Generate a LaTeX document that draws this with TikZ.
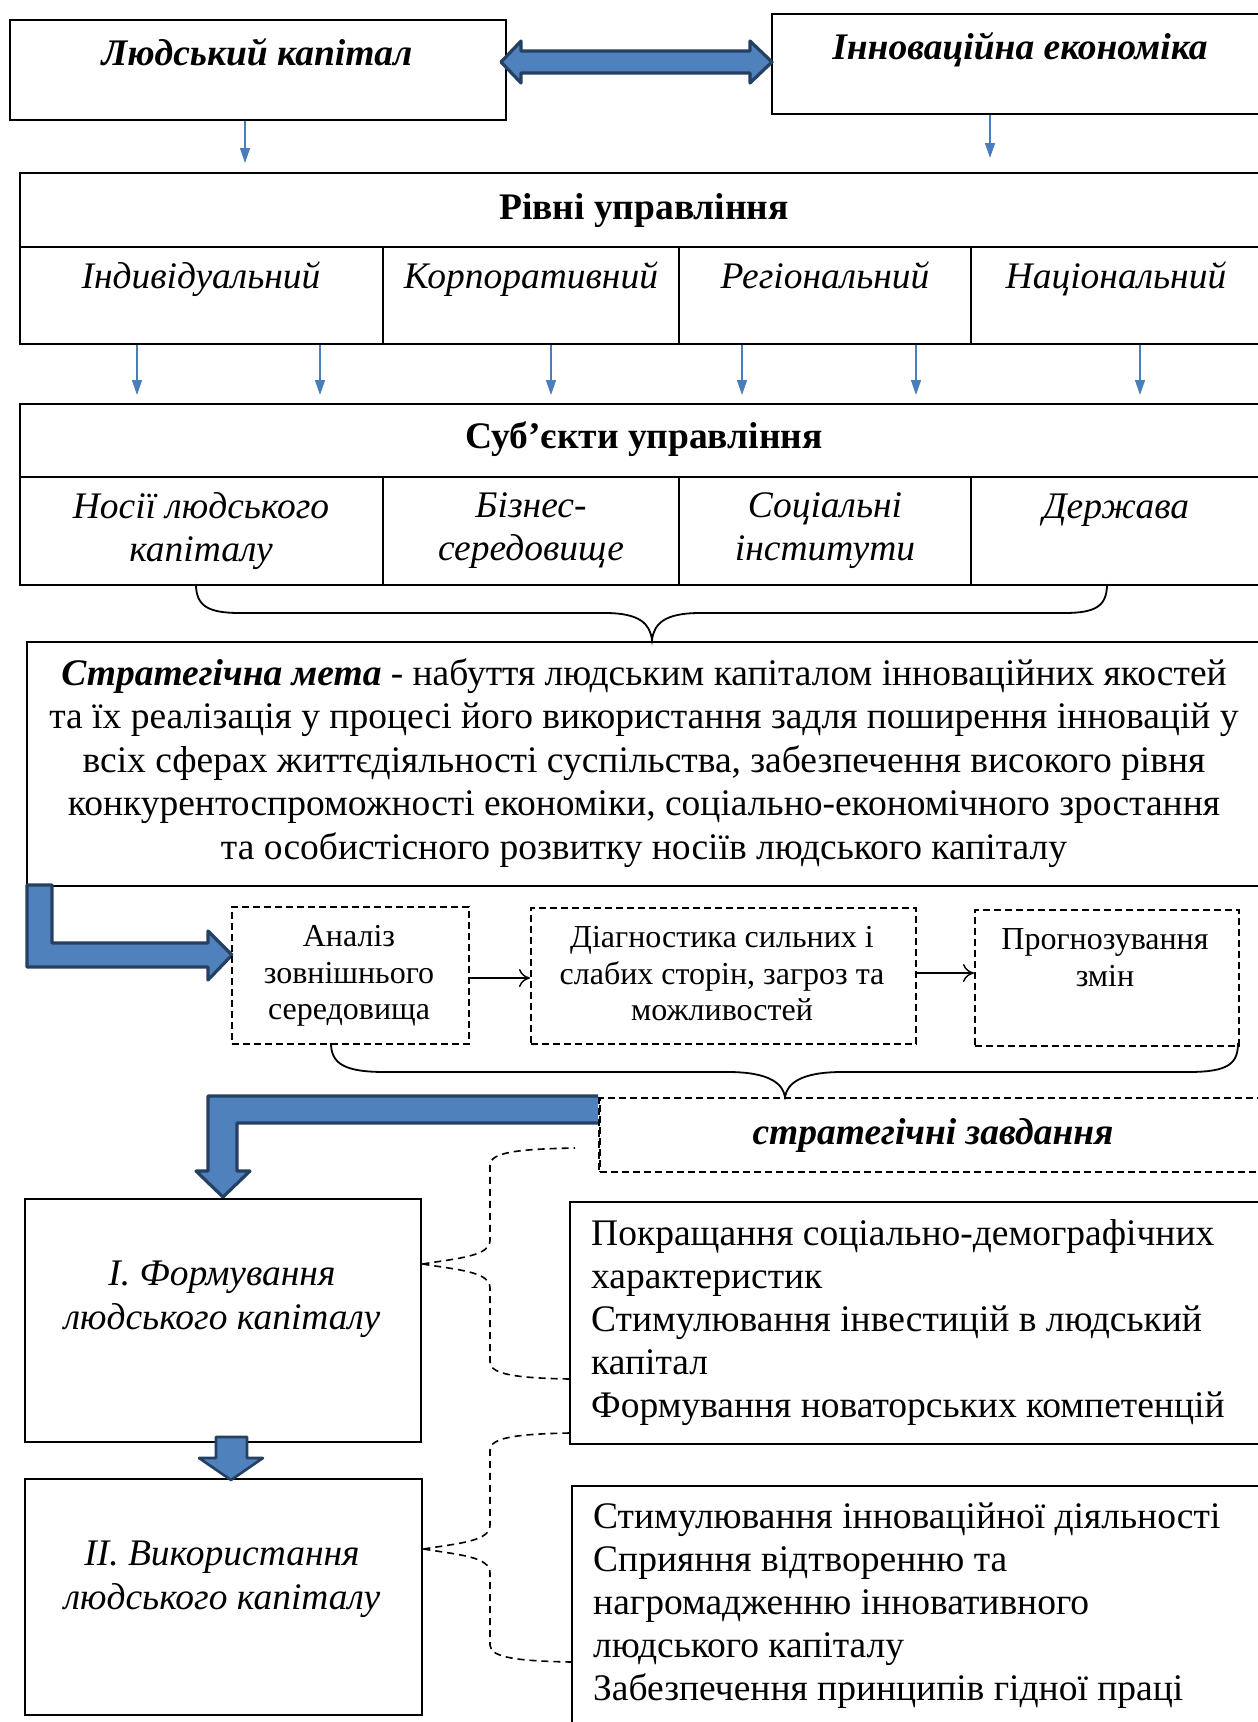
\documentclass[tikz,border=0pt]{standalone}
\usepackage{fontspec}
\setmainfont{Liberation Serif}
\usetikzlibrary{arrows.meta,calc}
\definecolor{bfill}{RGB}{79,129,189}
\definecolor{bline}{RGB}{38,64,98}
\definecolor{thinblue}{RGB}{74,126,187}
\newcommand{\fs}[2]{\fontsize{#1}{#2}\selectfont}
\begin{document}
\begin{tikzpicture}[x=1pt,y=-1pt,
  solidbox/.style={draw=black, line width=2.4pt, minimum width=#1, anchor=north west, inner sep=0pt},
  dashbox/.style={draw=black, line width=1.8pt, dash pattern=on 7pt off 4pt, anchor=north west, inner sep=0pt},
  inner/.style={line width=1.5pt},
  thinarrow/.style={draw=thinblue, line width=1.4pt, -{Triangle[length=15pt,width=10pt]}},
  blockarrow/.style={fill=bfill, draw=bline, line width=3.2pt, line join=round},
  dashcon/.style={draw=black, line width=1.6pt, dash pattern=on 7pt off 5pt},
  brace/.style={draw=black, line width=1.8pt},
  smallarrow/.style={draw=black, line width=1.4pt, -{To[length=11pt,width=18pt]}},
  txt/.style={inner sep=0pt, align=center}
]
\clip (0,0) rectangle (1258,1722);
\fill[white] (0,0) rectangle (1258,1722);

% top boxes
\node[solidbox=496pt, minimum height=100pt] (lk) at (9,19) {};
\node[solidbox=500pt, minimum height=100pt] (ie) at (771,13) {};
\node[txt, font=\bfseries\itshape\fs{37.5}{42}] (lkt) at (257,52) {Людський капітал};
\node[txt, font=\bfseries\itshape\fs{37.5}{42}] (iet) at (1020,50) {Інноваційна економіка};

% double block arrow
\draw[blockarrow] (501,62) -- (521,41) -- (521,51) -- (750,51) -- (750,41) -- (772,62)
  -- (750,83) -- (750,73) -- (521,73) -- (521,83) -- cycle;

% levels box
\node[solidbox=1250pt, minimum height=171pt] (rivni) at (19,172) {};
\draw[inner] (19,247) -- (1270,247);
\draw[inner] (383,247) -- (383,343);
\draw[inner] (679,247) -- (679,343);
\draw[inner] (971,247) -- (971,343);
\node[txt, font=\bfseries\fs{37.5}{42}] (rivnit) at (644,211) {Рівні управління};
\node[txt, font=\itshape\fs{37.5}{42}] (c1) at (201,279) {Індивідуальний};
\node[txt, font=\itshape\fs{37.5}{42}] (c2) at (531,279) {Корпоративний};
\node[txt, font=\itshape\fs{37.5}{42}] (c3) at (825,275) {Регіональний};
\node[txt, font=\itshape\fs{37.5}{42}] (c4) at (1116,279) {Національний};

\coordinate (t1) at (245,163);
\coordinate (t2) at (990,158);
\draw[thinarrow] (lk.south -| t1) -- (t1);
\draw[thinarrow] (ie.south -| t2) -- (t2);

% subjects box
\node[solidbox=1250pt, minimum height=181pt] (subj) at (19,403) {};
\draw[inner] (19,477) -- (1270,477);
\draw[inner] (383,477) -- (383,584);
\draw[inner] (679,477) -- (679,584);
\draw[inner] (971,477) -- (971,584);
\node[txt, font=\bfseries\fs{37.5}{42}] (subjt) at (644,439) {Суб’єкти управління};
\node[txt, font=\itshape\fs{37.5}{43}] (s1) at (201,531) {Носії людського\\капіталу};
\node[txt, font=\itshape\fs{37.5}{43}] (s2) at (531,531) {Бізнес-\\середовище};
\node[txt, font=\itshape\fs{37.5}{43}] (s3) at (825,531) {Соціальні\\інститути};
\node[txt, font=\itshape\fs{37.5}{43}] (s4) at (1116,510) {Держава};

\foreach \x [count=\i] in {137,320,551,742,916,1140}{
  \coordinate (d\i) at (\x,395);
  \draw[thinarrow] (rivni.south -| d\i) -- (d\i);
}

% brace 1
\coordinate (b1tip) at (652,640);
\draw[brace] (196,584) .. controls (196,606) and (208,613) .. (240,613) -- (605,613)
  .. controls (640,613) and (650,624) .. (b1tip)
  .. controls (654,624) and (664,613) .. (700,613) -- (1064,613)
  .. controls (1096,613) and (1107,606) .. (1107,584);

% goal box
\node[solidbox=1240pt, minimum height=244pt] (goal) at (26,641) {};
\node[txt, font=\fs{37.5}{43.5}] (goalt) at (644,763) {\textbf{\textit{Стратегічна мета}} - набуття людським капіталом інноваційних якостей\\
та їх реалізація у процесі його використання задля поширення інновацій у\\
всіх сферах життєдіяльності суспільства, забезпечення високого рівня\\
конкурентоспроможності економіки, соціально-економічного зростання\\
та особистісного розвитку носіїв людського капіталу};

% block arrow 1
\draw[blockarrow] (27,885) -- (52,885) -- (52,943) -- (208,943) -- (208,931) -- (232,955)
  -- (208,980) -- (208,967) -- (27,967) -- cycle;

% dashed boxes
\node[dashbox, minimum width=237pt, minimum height=137pt] (an) at (231,906) {};
\node[dashbox, minimum width=385pt, minimum height=136pt] (di) at (530,907) {};
\node[dashbox, minimum width=264pt, minimum height=136pt] (pr) at (974,909) {};
\node[txt, font=\fs{32}{36.5}] (ant) at (349,976) {Аналіз\\зовнішнього\\середовища};
\node[txt, font=\fs{32}{36.5}] (dit) at (722,974) {Діагностика сильних і\\слабих сторін, загроз та\\можливостей};
\node[txt, font=\fs{32}{37}] (prt) at (1105,958) {Прогнозування\\змін};
\draw[smallarrow] (an.east |- 0,978) -- (di.west |- 0,978);
\draw[smallarrow] (di.east |- 0,973) -- (pr.west |- 0,973);

% brace 2
\coordinate (b2tip) at (785,1097);
\draw[brace] (331,1043) .. controls (331,1064) and (345,1072) .. (385,1072) -- (728,1072)
  .. controls (770,1072) and (783,1084) .. (b2tip)
  .. controls (787,1084) and (800,1072) .. (842,1072) -- (1188,1072)
  .. controls (1228,1072) and (1238,1064) .. (1238,1043);

% strategic tasks dashed box
\node[dashbox, minimum width=680pt, minimum height=74pt] (sz) at (599,1097) {};
\draw[line width=2.4pt, dash pattern=on 7pt off 4pt] (599,1097) -- (599,1171);
\node[txt, font=\bfseries\itshape\fs{37.5}{42}] (szt) at (933,1135) {стратегічні завдання};

% block arrow 2
\draw[blockarrow] (598,1096) -- (208,1096) -- (208,1171) -- (196,1171) -- (223,1197)
  -- (250,1171) -- (237,1171) -- (237,1123) -- (598,1123);
\fill[bfill] (590,1098) rectangle (598,1121);

% stage boxes
\node[solidbox=396pt, minimum height=243pt] (st1) at (24,1198) {};
\node[solidbox=397pt, minimum height=236pt] (st2) at (24,1478) {};
\node[txt, font=\itshape\fs{37.5}{44}] (st1t) at (222,1299) {I. Формування\\людського капіталу};
\node[txt, font=\itshape\fs{37.5}{44}] (st2t) at (222,1579) {II. Використання\\людського капіталу};

% small down block arrow
\draw[blockarrow, line width=2.6pt] (216,1437) -- (247,1437) -- (247,1458) -- (263,1458) -- (231,1480)
  -- (199,1458) -- (216,1458) -- cycle;

% task boxes
\node[solidbox=700pt, minimum height=242pt] (tk1) at (569,1201) {};
\node[solidbox=700pt, minimum height=260pt] (tk2) at (571,1485) {};
\node[inner sep=0pt, align=left, anchor=north west, font=\fs{37.5}{43}] (tk1t) at (591,1219)
 {Покращання соціально-демографічних\\характеристик\\Стимулювання інвестицій в людський\\капітал\\Формування новаторських компетенцій};
\node[inner sep=0pt, align=left, anchor=north west, font=\fs{37.5}{43}] (tk2t) at (593,1503)
 {Стимулювання інноваційної діяльності\\Сприяння відтворенню та\\нагромадженню інновативного\\людського капіталу\\Забезпечення принципів гідної праці};

% dashed brace connectors
\coordinate (e1) at (575,1148);
\draw[dashcon] (st1.east |- 0,1264) .. controls (460,1258) and (490,1256) .. (490,1240) -- (490,1165) .. controls (490,1152) and (520,1149) .. (e1);
\draw[dashcon] (st1.east |- 0,1264) .. controls (460,1270) and (490,1272) .. (490,1288) -- (490,1362) .. controls (490,1375) and (520,1378) .. (tk1.west |- 0,1379);
\draw[dashcon] (st2.east |- 0,1549) .. controls (461,1543) and (490,1541) .. (490,1525) -- (490,1450) .. controls (490,1437) and (520,1434) .. (tk1.west |- 0,1433);
\draw[dashcon] (st2.east |- 0,1549) .. controls (461,1555) and (490,1557) .. (490,1573) -- (490,1645) .. controls (490,1658) and (520,1661) .. (tk2.west |- 0,1662);
\end{tikzpicture}
\end{document}
